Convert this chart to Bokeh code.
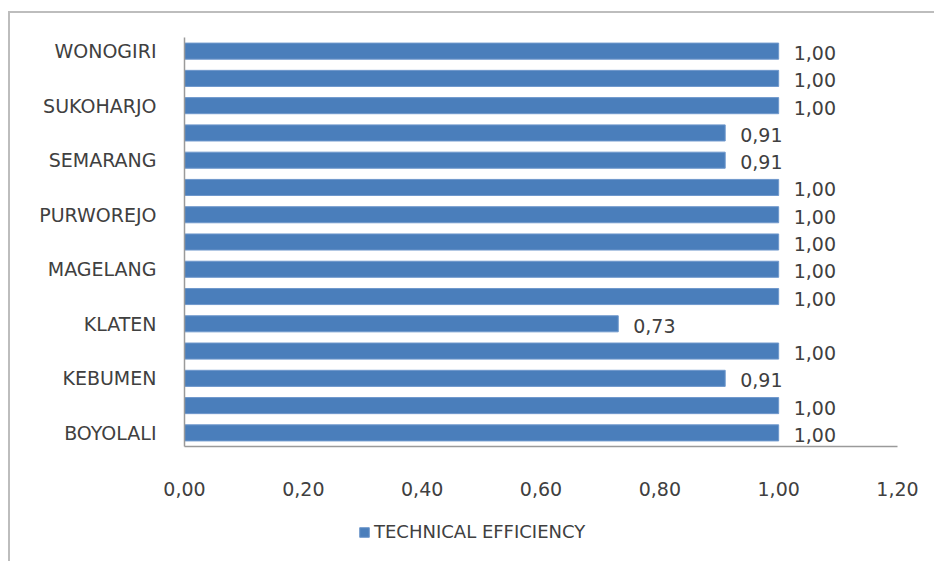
from bokeh.plotting import figure
from bokeh.layouts import column
from bokeh.models import ColumnDataSource, FixedTicker, CustomJSTickFormatter, Legend, LegendItem
from bokeh.core.properties import value
from bokeh.embed import file_html
from bokeh.resources import INLINE

# ---- data (bottom to top) ----
categories = ["BOYOLALI", "", "KEBUMEN", "", "KLATEN", "", "MAGELANG", "",
              "PURWOREJO", "", "SEMARANG", "", "SUKOHARJO", "", "WONOGIRI"]
efficiency = [1.00, 1.00, 0.91, 1.00, 0.73, 1.00, 1.00, 1.00,
              1.00, 1.00, 0.91, 0.91, 1.00, 1.00, 1.00]
x_ticks = [0.0, 0.2, 0.4, 0.6, 0.8, 1.0, 1.2]
series_name = "TECHNICAL EFFICIENCY"

positions = list(range(len(categories)))
labels = [f"{v:.2f}".replace(".", ",") for v in efficiency]
src = ColumnDataSource(dict(y=positions, v=efficiency, lab=labels))

FONT = "DejaVu Sans"
TXT = "#404040"
BAR = "#4a7ebb"
BAR_LINE = "#6f98cc"

p = figure(width=924, height=498, output_backend="svg", toolbar_location=None,
           x_range=(0, 1.2), y_range=(-0.5, len(categories) - 0.5),
           min_border_left=174, min_border_right=37, min_border_top=24, min_border_bottom=65,
           frame_width=713, frame_height=409)

bars = p.hbar(y="y", right="v", left=0, height=0.59, source=src,
              fill_color=BAR, line_color=BAR_LINE, line_width=1)
p.text(x="v", y="y", text="lab", source=src, x_offset=15, y_offset=2,
       text_font=value(FONT), text_font_size="19px", text_color=TXT,
       text_baseline="middle", text_align="left")

p.xgrid.visible = False
p.ygrid.visible = False
p.outline_line_color = None
p.background_fill_color = "white"
p.border_fill_color = "white"

xa = p.xaxis[0]
xa.ticker = FixedTicker(ticks=x_ticks)
xa.formatter = CustomJSTickFormatter(code="return tick.toFixed(2).replace('.', ',');")
xa.major_tick_line_color = None
xa.minor_tick_line_color = None
xa.axis_line_color = "#9a9a9a"
xa.axis_line_width = 1.5
xa.major_label_standoff = 29
xa.major_label_text_font = FONT
xa.major_label_text_font_size = "19px"
xa.major_label_text_color = TXT

ya = p.yaxis[0]
ya.ticker = FixedTicker(ticks=[i for i, c in enumerate(categories) if c])
ya.major_label_overrides = {i: c for i, c in enumerate(categories) if c}
ya.major_tick_line_color = None
ya.minor_tick_line_color = None
ya.axis_line_color = "#9a9a9a"
ya.axis_line_width = 1.5
ya.major_label_standoff = 22
ya.major_label_text_font = FONT
ya.major_label_text_font_size = "19px"
ya.major_label_text_color = TXT

# ---- legend strip below the chart (its bars lie outside its view ranges) ----
p2 = figure(width=924, height=50, output_backend="svg", toolbar_location=None,
            x_range=(5, 6), y_range=(100, 101),
            min_border=0, min_border_left=0, min_border_right=0,
            min_border_top=0, min_border_bottom=0)
p2.axis.visible = False
p2.grid.visible = False
p2.outline_line_color = None
p2.border_fill_color = "white"
key = p2.hbar(y="y", right="v", left=0, height=0.59, source=src,
              fill_color=BAR, line_color=BAR_LINE, line_width=1)
legend = Legend(items=[LegendItem(label=series_name, renderers=[key])],
                location=(174, 19), orientation="horizontal",
                glyph_width=12, glyph_height=12, label_standoff=4,
                label_text_font=FONT, label_text_font_size="18px", label_text_color=TXT,
                padding=0, margin=0, border_line_color=None, background_fill_alpha=0)
p2.add_layout(legend, "center")

layout = column(p, p2, spacing=0)
layout.styles = {"border-left": "2px solid #bdbdbd", "border-top": "2px solid #bdbdbd",
                 "margin-top": "11px", "margin-left": "8px", "background-color": "white"}

open("out.html", "w").write(file_html(layout, INLINE))
